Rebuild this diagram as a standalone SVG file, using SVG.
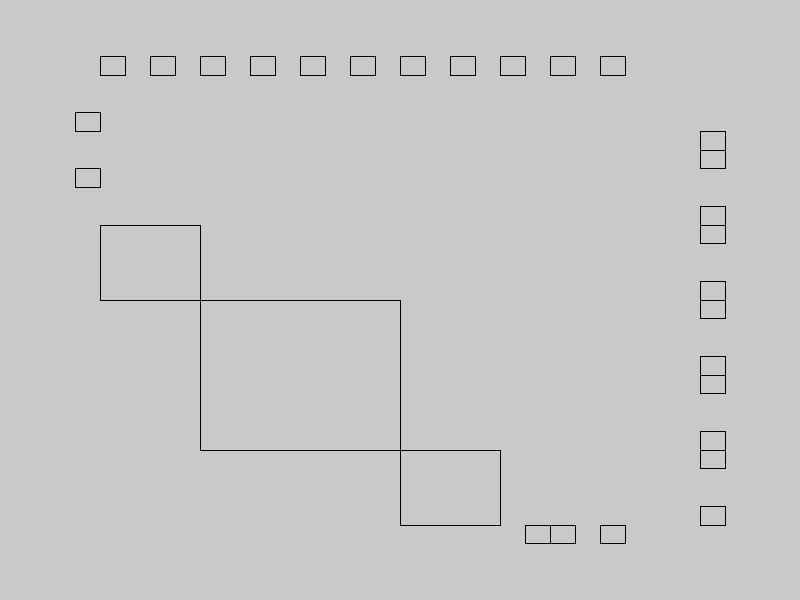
<svg xmlns="http://www.w3.org/2000/svg" width="800" height="600" viewBox="0 0 800 600">
<style>
rect.b{fill:none;stroke:#000;stroke-width:1}
</style>
<rect x="0" y="0" width="800" height="600" fill="#c9c9c9"/>
<g transform="translate(0.5,0.5)">
<g id="top">
<rect class="b" x="100" y="56" width="25" height="19"/>
<rect class="b" x="150" y="56" width="25" height="19"/>
<rect class="b" x="200" y="56" width="25" height="19"/>
<rect class="b" x="250" y="56" width="25" height="19"/>
<rect class="b" x="300" y="56" width="25" height="19"/>
<rect class="b" x="350" y="56" width="25" height="19"/>
<rect class="b" x="400" y="56" width="25" height="19"/>
<rect class="b" x="450" y="56" width="25" height="19"/>
<rect class="b" x="500" y="56" width="25" height="19"/>
<rect class="b" x="550" y="56" width="25" height="19"/>
<rect class="b" x="600" y="56" width="25" height="19"/>
</g>
<g id="left">
<rect class="b" x="75" y="112" width="25" height="19"/>
<rect class="b" x="75" y="168" width="25" height="19"/>
</g>
<g id="diag">
<rect class="b" x="100" y="225" width="100" height="75"/>
<rect class="b" x="200" y="300" width="200" height="150"/>
<rect class="b" x="400" y="450" width="100" height="75"/>
</g>
<g id="bottom">
<rect class="b" x="525" y="525" width="25" height="18"/>
<rect class="b" x="550" y="525" width="25" height="18"/>
<rect class="b" x="600" y="525" width="25" height="18"/>
</g>
<g id="right">
<rect class="b" x="700" y="131" width="25" height="19"/>
<rect class="b" x="700" y="150" width="25" height="18"/>
<rect class="b" x="700" y="206" width="25" height="19"/>
<rect class="b" x="700" y="225" width="25" height="18"/>
<rect class="b" x="700" y="281" width="25" height="19"/>
<rect class="b" x="700" y="300" width="25" height="18"/>
<rect class="b" x="700" y="356" width="25" height="19"/>
<rect class="b" x="700" y="375" width="25" height="18"/>
<rect class="b" x="700" y="431" width="25" height="19"/>
<rect class="b" x="700" y="450" width="25" height="18"/>
<rect class="b" x="700" y="506" width="25" height="19"/>
</g>
</g>
<g id="connectors"></g>
</svg>
